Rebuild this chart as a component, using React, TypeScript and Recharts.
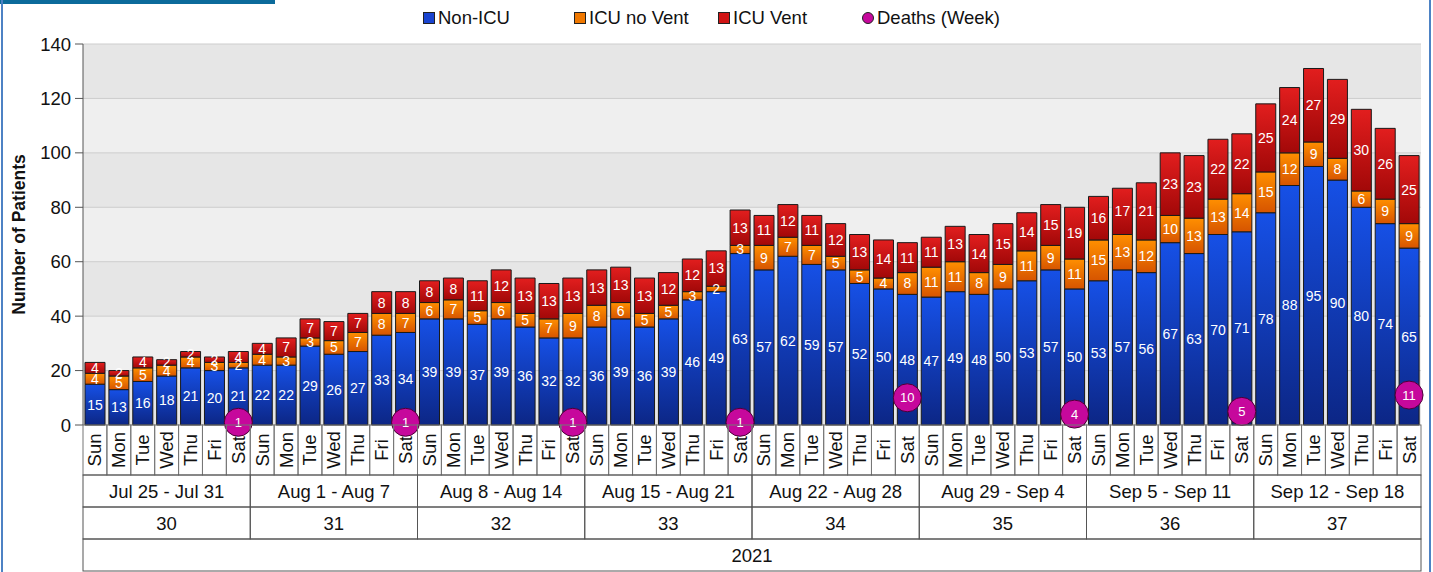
import React from 'react';
import { Bar, CartesianGrid, ComposedChart, LabelList, Scatter, XAxis, YAxis } from 'recharts';

const days = ['Sun', 'Mon', 'Tue', 'Wed', 'Thu', 'Fri', 'Sat'];
const weekRanges = [
    'Jul 25 - Jul 31',
    'Aug 1 - Aug 7',
    'Aug 8 - Aug 14',
    'Aug 15 - Aug 21',
    'Aug 22 - Aug 28',
    'Aug 29 - Sep 4',
    'Sep 5 - Sep 11',
    'Sep 12 - Sep 18',
];
const weekNumbers = [30, 31, 32, 33, 34, 35, 36, 37];
const year = '2021';

const nonIcu = [
    15, 13, 16, 18, 21, 20, 21,
    22, 22, 29, 26, 27, 33, 34,
    39, 39, 37, 39, 36, 32, 32,
    36, 39, 36, 39, 46, 49, 63,
    57, 62, 59, 57, 52, 50, 48,
    47, 49, 48, 50, 53, 57, 50,
    53, 57, 56, 67, 63, 70, 71,
    78, 88, 95, 90, 80, 74, 65,
];
const icuNoVent = [
    4, 5, 5, 4, 4, 3, 2,
    4, 3, 3, 5, 7, 8, 7,
    6, 7, 5, 6, 5, 7, 9,
    8, 6, 5, 5, 3, 2, 3,
    9, 7, 7, 5, 5, 4, 8,
    11, 11, 8, 9, 11, 9, 11,
    15, 13, 12, 10, 13, 13, 14,
    15, 12, 9, 8, 6, 9, 9,
];
const icuVent = [
    4, 2, 4, 2, 2, 2, 4,
    4, 7, 7, 7, 7, 8, 8,
    8, 8, 11, 12, 13, 13, 13,
    13, 13, 13, 12, 12, 13, 13,
    11, 12, 11, 12, 13, 14, 11,
    11, 13, 14, 15, 14, 15, 19,
    16, 17, 21, 23, 23, 22, 22,
    25, 24, 27, 29, 30, 26, 25,
];
// weekly deaths, drawn on the Saturday of each week
const deathsWeek = [1, 1, 1, 1, 10, 4, 5, 11];

const rows = nonIcu.map((v, i) => {
    const w = Math.floor(i / 7);
    return {
        key: `${w}-${i % 7}`,
        day: days[i % 7],
        range: weekRanges[w],
        week: weekNumbers[w],
        year,
        nonIcu: v,
        icuNoVent: icuNoVent[i],
        icuVent: icuVent[i],
        deaths: i % 7 === 6 ? deathsWeek[w] : null,
    };
});

const WIDTH = 1433;
const HEIGHT = 572;
const MARGIN = { top: 44, right: 12, bottom: 0, left: 0 };
const Y_AXIS_W = 83;
const PLOT_W = WIDTH - MARGIN.left - MARGIN.right - Y_AXIS_W;
const FONT = '"Liberation Sans", Arial, sans-serif';
const TXT = 18.5;

const DayTick = (props: any) => {
    const { x, y, payload } = props;
    const bw = PLOT_W / rows.length;
    return (
        <g>
            <rect x={x - bw / 2} y={y} width={bw} height={50} fill="none" stroke="#777" />
            <text
                transform={`translate(${x},${y + 25}) rotate(-90)`}
                textAnchor="middle"
                dominantBaseline="central"
                fontSize={TXT}
                fontFamily={FONT}
                fill="#111"
            >
                {rows[payload.index] ? rows[payload.index].day : ''}
            </text>
        </g>
    );
};

const makeGroupTick = (count: number, h: number) => (props: any) => {
    const { x, y, payload } = props;
    const bw = PLOT_W / count;
    return (
        <g>
            <rect x={x - bw / 2} y={y} width={bw} height={h} fill="none" stroke="#555" />
            <text x={x} y={y + h / 2} textAnchor="middle" dominantBaseline="central" fontSize={TXT} fontFamily={FONT} fill="#111">
                {payload.value}
            </text>
        </g>
    );
};

const DeathDot = (props: any) => {
    const { cx, cy, payload } = props;
    if (payload == null || payload.deaths == null || cx == null || cy == null) return <g />;
    return (
        <g>
            <circle cx={cx} cy={cy} r={14} fill="#c6089c" stroke="#4a0036" strokeWidth={1} />
            <text x={cx} y={cy} textAnchor="middle" dominantBaseline="central" fontSize={13} fontFamily={FONT} fill="#fff">
                {payload.deaths}
            </text>
        </g>
    );
};

const legendItems = [
    { name: 'Non-ICU', left: 423, shape: 'square', color: '#1a44d0' },
    { name: 'ICU no Vent', left: 574, shape: 'square', color: '#f07800' },
    { name: 'ICU Vent', left: 718, shape: 'square', color: '#d01414' },
    { name: 'Deaths (Week)', left: 862, shape: 'circle', color: '#c6089c' },
];

const App = () => {
    return (
        <div style={{ position: 'absolute', left: 0, top: 0, width: WIDTH, height: HEIGHT, background: '#fff', overflow: 'hidden', fontFamily: FONT }}>
            <div style={{ position: 'absolute', left: 0, top: 0, width: 275, height: 4, background: '#0c6b9b' }} />
            <div style={{ position: 'absolute', left: 1, top: 0, width: 2, height: HEIGHT, background: '#4d82c4' }} />
            <div style={{ position: 'absolute', left: 1429, top: 0, width: 2, height: HEIGHT, background: '#4d82c4' }} />
            {legendItems.map((it) => (
                <div key={it.name} style={{ position: 'absolute', left: it.left, top: 7, height: 22, display: 'flex', alignItems: 'center', fontSize: TXT, color: '#111', whiteSpace: 'nowrap' }}>
                    <span
                        style={{
                            display: 'inline-block',
                            width: 10,
                            height: 10,
                            marginRight: 3,
                            background: it.color,
                            border: '1px solid #222',
                            borderRadius: it.shape === 'circle' ? '50%' : 0,
                        }}
                    />
                    {it.name}
                </div>
            ))}
            <ComposedChart width={WIDTH} height={HEIGHT} data={rows} margin={MARGIN} barSize={20}>
                <defs>
                    <linearGradient id="gBlue" x1="0" y1="0" x2="0" y2="1">
                        <stop offset="0%" stopColor="#1650e6" />
                        <stop offset="100%" stopColor="#0c2685" />
                    </linearGradient>
                    <linearGradient id="gOrange" x1="0" y1="0" x2="0" y2="1">
                        <stop offset="0%" stopColor="#ff8f00" />
                        <stop offset="100%" stopColor="#d65400" />
                    </linearGradient>
                    <linearGradient id="gRed" x1="0" y1="0" x2="0" y2="1">
                        <stop offset="0%" stopColor="#e21e1e" />
                        <stop offset="100%" stopColor="#a20808" />
                    </linearGradient>
                </defs>
                <CartesianGrid vertical={false} stroke="#cdcdcd" horizontalFill={['#e6e6e6', '#efefef']} fillOpacity={1} />
                <XAxis xAxisId={0} dataKey="key" height={50} interval={0} tickSize={0} tickMargin={0} axisLine={false} tick={<DayTick />} />
                <XAxis xAxisId={1} dataKey="range" allowDuplicatedCategory={false} height={32} interval={0} tickSize={0} tickMargin={0} axisLine={false} tick={makeGroupTick(weekRanges.length, 32)} />
                <XAxis xAxisId={2} dataKey="week" allowDuplicatedCategory={false} height={32} interval={0} tickSize={0} tickMargin={0} axisLine={false} tick={makeGroupTick(weekNumbers.length, 32)} />
                <XAxis xAxisId={3} dataKey="year" allowDuplicatedCategory={false} height={33} interval={0} tickSize={0} tickMargin={0} axisLine={false} tick={makeGroupTick(1, 32)} />
                <YAxis
                    width={Y_AXIS_W}
                    domain={[0, 140]}
                    ticks={[0, 20, 40, 60, 80, 100, 120, 140]}
                    tickSize={8}
                    tickMargin={4}
                    stroke="#555"
                    tick={{ fontSize: TXT, fill: '#111', fontFamily: FONT }}
                    label={{
                        content: (p: any) => {
                            const vb = p.viewBox;
                            const cy = vb.y + vb.height / 2;
                            return (
                                <text transform={`translate(19,${cy}) rotate(-90)`} textAnchor="middle" dominantBaseline="central" fontSize={17.5} fontWeight="bold" fontFamily={FONT} fill="#111">
                                    Number of Patients
                                </text>
                            );
                        },
                    }}
                />
                <Bar dataKey="nonIcu" stackId="a" fill="url(#gBlue)" stroke="#1a1a1a" strokeWidth={1} isAnimationActive={false}>
                    <LabelList dataKey="nonIcu" position="center" fill="#fff" fontSize={14} fontFamily={FONT} />
                </Bar>
                <Bar dataKey="icuNoVent" stackId="a" fill="url(#gOrange)" stroke="#1a1a1a" strokeWidth={1} isAnimationActive={false}>
                    <LabelList dataKey="icuNoVent" position="center" fill="#fff" fontSize={14} fontFamily={FONT} />
                </Bar>
                <Bar dataKey="icuVent" stackId="a" fill="url(#gRed)" stroke="#1a1a1a" strokeWidth={1} isAnimationActive={false}>
                    <LabelList dataKey="icuVent" position="center" fill="#fff" fontSize={14} fontFamily={FONT} />
                </Bar>
                <Scatter dataKey="deaths" shape={<DeathDot />} isAnimationActive={false} />
            </ComposedChart>
        </div>
    );
};

export default App;
